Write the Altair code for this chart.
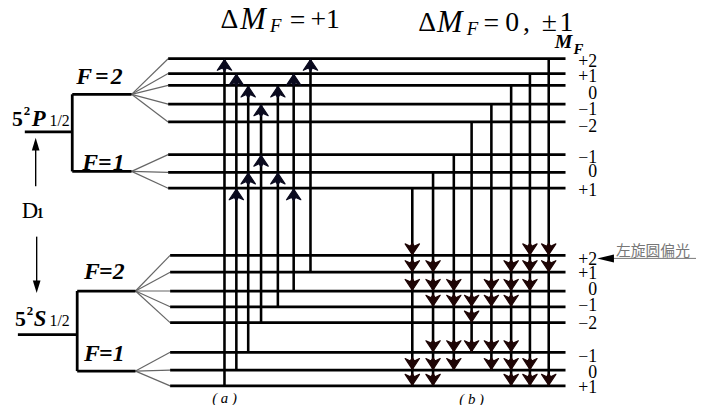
import altair as alt
import pandas as pd

# ---------------- values ----------------
# magnetic sub-levels M_F and their energies (arbitrary units, higher = more energy)
P_F2_MF = [2, 1, 0, -1, -2]
P_F2_E = [348, 333, 321, 302, 284]
P_F1_MF = [-1, 0, 1]
P_F1_E = [251, 233, 217]
S_F2_MF = [2, 1, 0, -1, -2]
S_F2_E = [149, 132, 113, 97, 81]
S_F1_MF = [-1, 0, 1]
S_F1_E = [51, 33, 17]

# hyperfine F levels and fine-structure terms
HF_KEYS = [("P", 2), ("P", 1), ("S", 2), ("S", 1)]
HF_E = [312, 234, 113, 32]
TERM_E = [274, 69]  # 5²P1/2, 5²S1/2

# (a) sigma+ absorption  (dM_F = +1): column, lower level, excited levels reached
A_COLS = [227, 239, 251, 264, 281, 297, 314]
A_FROM = [("S", 1, 1), ("S", 1, 0), ("S", 1, -1), ("S", 2, -2), ("S", 2, -1), ("S", 2, 0), ("S", 2, 1)]
A_TO = [
    [("P", 2, 2)],
    [("P", 1, 1), ("P", 2, 1)],
    [("P", 1, 0), ("P", 2, 0)],
    [("P", 1, -1), ("P", 2, -1)],
    [("P", 1, 0), ("P", 2, 0)],
    [("P", 1, 1), ("P", 2, 1)],
    [("P", 2, 2)],
]

# (b) spontaneous decay (dM_F = 0, ±1)
B_COLS = [417, 438, 459, 477, 497, 517, 536, 555]
B_FROM = [("P", 1, 1), ("P", 1, 0), ("P", 1, -1), ("P", 2, -2), ("P", 2, -1), ("P", 2, 0), ("P", 2, 1), ("P", 2, 2)]
B_TO = [
    [("S", 2, 2), ("S", 2, 1), ("S", 2, 0), ("S", 1, 0), ("S", 1, 1)],
    [("S", 2, 1), ("S", 2, 0), ("S", 2, -1), ("S", 1, -1), ("S", 1, 0), ("S", 1, 1)],
    [("S", 2, 0), ("S", 2, -1), ("S", 1, -1), ("S", 1, 0)],
    [("S", 2, -1), ("S", 2, -2), ("S", 1, -1)],
    [("S", 2, 0), ("S", 2, -1), ("S", 1, -1), ("S", 1, 0)],
    [("S", 2, 1), ("S", 2, 0), ("S", 2, -1), ("S", 1, -1), ("S", 1, 0), ("S", 1, 1)],
    [("S", 2, 2), ("S", 2, 1), ("S", 2, 0), ("S", 1, 0), ("S", 1, 1)],
    [("S", 2, 2), ("S", 2, 1), ("S", 1, 1)],
]

# ---------------- layout ----------------
W, H = 696, 397
TOP = 405  # E = TOP - page row


def E(row):
    return TOP - row


XS = alt.Scale(domain=[8, 704], nice=False, zero=False)
YS = alt.Scale(domain=[0, 397], nice=False, zero=False)
SERIF = "Liberation Serif"

LEVELS = {}
for term, F, mfs, es in [("P", 2, P_F2_MF, P_F2_E), ("P", 1, P_F1_MF, P_F1_E),
                         ("S", 2, S_F2_MF, S_F2_E), ("S", 1, S_F1_MF, S_F1_E)]:
    for m, e in zip(mfs, es):
        LEVELS[(term, F, m)] = e
HF = dict(zip(HF_KEYS, HF_E))

LEVEL_X0 = {"P": 170, "S": 172}
LEVEL_X1 = 572
FAN_X0 = {"P": 133, "S": 137}
BRACKET_X = {"P": 73, "S": 78}
TERM_X0 = {"P": 25, "S": 18}

level_rows, fan_rows, bracket_rows = [], [], []
for (term, F, m), e in LEVELS.items():
    level_rows.append(dict(x=LEVEL_X0[term], x2=LEVEL_X1, e=e, e2=e))
    fan_rows.append(dict(x=FAN_X0[term], x2=LEVEL_X0[term], e=HF[(term, F)], e2=e))
for term, te in zip(["P", "S"], TERM_E):
    bx = BRACKET_X[term]
    bracket_rows.append(dict(x=TERM_X0[term], x2=bx, e=te, e2=te))
    bracket_rows.append(dict(x=bx, x2=bx, e=HF[(term, 2)], e2=HF[(term, 1)]))
    for F in (2, 1):
        bracket_rows.append(dict(x=bx, x2=FAN_X0[term], e=HF[(term, F)], e2=HF[(term, F)]))

vert_rows, up_heads, down_heads = [], [], []
for c, f, tos in zip(A_COLS, A_FROM, A_TO):
    top = max(LEVELS[t] for t in tos)
    vert_rows.append(dict(x=c, x2=c, e=LEVELS[f], e2=top))
    for t in tos:
        up_heads.append(dict(x=c, e=LEVELS[t]))
for c, f, tos in zip(B_COLS, B_FROM, B_TO):
    bot = min(LEVELS[t] for t in tos)
    vert_rows.append(dict(x=c, x2=c, e=LEVELS[f], e2=bot))
    for t in tos:
        down_heads.append(dict(x=c, e=LEVELS[t]))

# D1 arrows and polarised-light arrow
d1_rows = [dict(x=36, x2=36, e=E(186), e2=E(142)), dict(x=37, x2=37, e=E(237), e2=E(287))]
d1_up = [dict(x=36, e=E(137))]
d1_down = [dict(x=37, e=E(294))]
pol_rows = [dict(x=618, x2=704, e=E(259), e2=E(259))]
pol_head = [dict(x=604, e=E(259))]

UP_HEAD = "M0,0.1 L0.9,1.45 L0.25,1.15 L0,1.55 L-0.25,1.15 L-0.9,1.45 Z"
DOWN_HEAD = "M0,-0.1 L0.9,-1.45 L0.25,-1.15 L0,-1.55 L-0.25,-1.15 L-0.9,-1.45 Z"
UP_TRI = "M0,0 L0.55,1.8 L-0.55,1.8 Z"
DOWN_TRI = "M0,0 L0.55,-1.8 L-0.55,-1.8 Z"
LEFT_TRI = "M0,0 L1.9,-0.45 L1.9,0.45 Z"


def rules(rows, width, color="black"):
    return alt.Chart(pd.DataFrame(rows)).mark_rule(strokeWidth=width, color=color).encode(
        x=alt.X("x:Q", scale=XS, axis=None), x2="x2:Q",
        y=alt.Y("e:Q", scale=YS, axis=None), y2="e2:Q")


def heads(rows, shape, size, color="black", sw=0):
    return alt.Chart(pd.DataFrame(rows)).mark_point(
        shape=shape, filled=True, size=size, fill=color, stroke=color, opacity=1,
        strokeWidth=sw, strokeJoin="round").encode(
        x=alt.X("x:Q", scale=XS, axis=None), y=alt.Y("e:Q", scale=YS, axis=None))


def texts(rows, align="left", style="normal", weight="normal", font=SERIF, color="black"):
    df = pd.DataFrame([dict(t=t, x=x, e=E(r), fs=s) for t, x, r, s in rows])
    return alt.Chart(df).mark_text(align=align, baseline="middle", fontStyle=style,
                                   fontWeight=weight, font=font, color=color).encode(
        x=alt.X("x:Q", scale=XS, axis=None), y=alt.Y("e:Q", scale=YS, axis=None),
        text="t:N", size=alt.Size("fs:Q", scale=None, legend=None))


def fmt(m):
    return "+%d" % m if m > 0 else ("0" if m == 0 else "\u2212%d" % (-m))


# M_F labels on the right (small vertical nudges as in the figure)
NUDGE = {("P", 2): [3, 4, 9, 6, 5], ("P", 1): [3, 0, 3], ("S", 2): [5, 2, -1, -1, 1], ("S", 1): [5, 3, 2]}
mf_rows = []
for term, F, mfs in [("P", 2, P_F2_MF), ("P", 1, P_F1_MF), ("S", 2, S_F2_MF), ("S", 1, S_F1_MF)]:
    for m, n in zip(mfs, NUDGE[(term, F)]):
        mf_rows.append((fmt(m), 604, TOP - LEVELS[(term, F, m)] + n, 18))

upright = [
    ("\u0394", 223, 18, 28), ("=", 293, 19, 28), ("+1", 314, 18, 28),
    ("\u0394", 423, 21, 28), ("=", 489, 22, 28), ("0", 511, 21, 28), (",", 529, 21, 28),
    ("\u00b1", 548, 21, 28), ("1", 566, 21, 28),
    ("D", 22, 211, 23),
    ("1/2", 50, 120, 16), ("1/2", 50, 322, 16),
]
italic = [
    ("M", 243, 18, 31), ("F", 273, 24, 19),
    ("M", 442, 21, 31), ("F", 472, 27, 19),
]
bold = [
    ("5", 12, 118, 22), ("2", 24, 110, 13),
    ("5", 15, 320, 22), ("2", 27, 312, 13),
    ("1", 37, 214, 14),
]
bold_italic = [
    ("P", 32, 118, 23), ("S", 34, 320, 23),
    ("F", 77, 76, 24), ("=", 96, 76, 24), ("2", 112, 76, 24),
    ("F", 83, 163, 24), ("=", 99, 163, 24), ("1", 114, 163, 24),
    ("F", 85, 273, 24), ("=", 100, 273, 24), ("2", 114, 273, 24),
    ("F", 85, 356, 24), ("=", 100, 356, 24), ("1", 114, 356, 24),
    ("M", 561, 40, 20), ("F", 580, 47, 15),
]
centered_italic = [("( a )", 227, 400, 15), ("( b )", 477, 401, 15)]
chinese = [("左旋圆偏光", 623, 252, 15)]

chart = alt.layer(
    rules(fan_rows, 1.2, "#666666"),
    rules(bracket_rows, 2.8),
    rules(level_rows, 2.8),
    rules(vert_rows, 2.6),
    rules(d1_rows, 1.4),
    rules(pol_rows, 1.0, "#777777"),
    heads(up_heads, UP_HEAD, 260, "#0a0a1e", 1.2),
    heads(down_heads, DOWN_HEAD, 260, "#1e0505", 1.2),
    heads(d1_up, UP_TRI, 200),
    heads(d1_down, DOWN_TRI, 200),
    heads(pol_head, LEFT_TRI, 320),
    texts(upright),
    texts(italic, style="italic"),
    texts(bold, weight="bold"),
    texts(bold_italic, style="italic", weight="bold"),
    texts(mf_rows, align="right"),
    texts(centered_italic, align="center", style="italic"),
    texts(chinese, font="Noto Sans CJK SC", color="#777777"),
).properties(
    width=W, height=H, padding=0, autosize=alt.AutoSizeParams(type="none"),
    background="white",
).configure_view(stroke=None)

chart.save("out.html", embed_options={"renderer": "svg", "actions": False})
